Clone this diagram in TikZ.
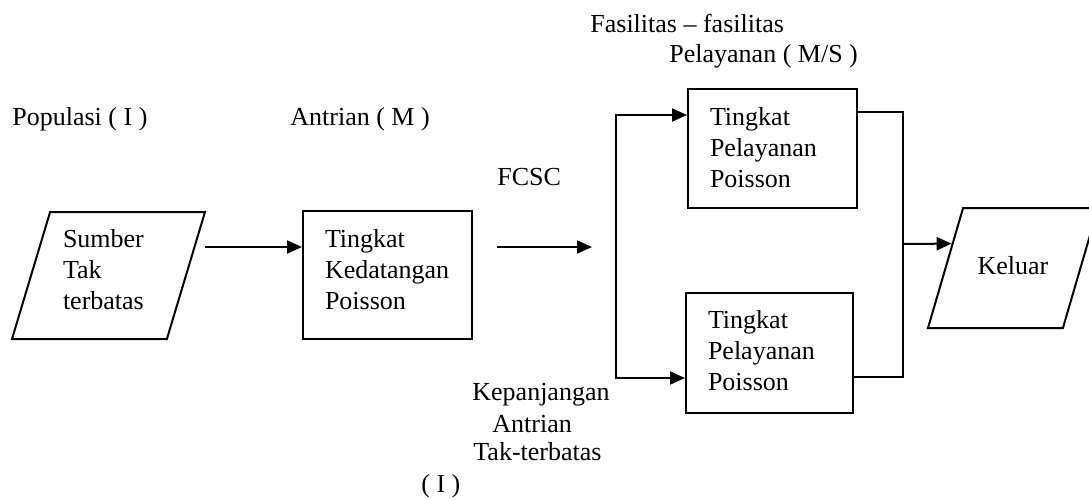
\documentclass[tikz,border=0pt]{standalone}
\usepackage{fontspec}
\setmainfont{Liberation Serif}
\usetikzlibrary{arrows.meta,shapes.geometric,calc}
\begin{document}
\begin{tikzpicture}[x=0.5pt,y=-0.5pt,
 every node/.style={font=\fontsize{13}{15.5}\selectfont},
 lbl/.style={inner sep=0pt, anchor=base west},
 box/.style={draw, line width=1pt, rectangle, align=left, text width=62.5pt, inner xsep=11pt, inner ysep=0pt},
 io/.style={draw, line width=1pt, trapezium, trapezium stretches body=true, align=left, inner sep=0pt},
 line/.style={line width=1pt},
 arr/.style={line width=1pt, -{Triangle[length=7.5pt,width=6.5pt]}}]
\useasboundingbox (0,0) rectangle (1089,499);
\clip (0,0) rectangle (1089,499);
% shapes
\node[io, trapezium left angle=73.3, trapezium right angle=106.7, minimum width=96.5pt, text width=45.5pt, text height=17.5pt, text depth=46pt] (src) at (108.5,275.5) {Sumber\\Tak\\terbatas};
\node[box, minimum height=64pt, text depth=37pt] (arv) at (387.5,275) {Tingkat\\Kedatangan\\Poisson};
\node[box, minimum height=59.5pt, text depth=32.5pt] (s1) at (772.5,148.5) {Tingkat\\Pelayanan\\Poisson};
\node[box, minimum height=60pt, text width=61.5pt, text depth=34pt] (s2) at (769.5,353) {Tingkat\\Pelayanan\\Poisson};
\node[io, trapezium left angle=73.7, trapezium right angle=106.3, minimum width=85pt, text height=33pt, text depth=27pt] (out) at (1013,268) {Keluar};
% labels
\node[lbl] (pop) at (12,125) {Populasi ( I )};
\node[lbl] (que) at (290,125) {Antrian ( M )};
\node[lbl] (fcsc) at (497,185) {FCSC};
\node[lbl] (fas1) at (590,32) {Fasilitas -- fasilitas};
\node[lbl] (fas2) at (669,62) {Pelayanan ( M/S )};
\node[lbl] (kp1) at (472,400) {Kepanjangan};
\node[lbl] (kp2) at (492,432) {Antrian};
\node[lbl] (kp3) at (473,460) {Tak-terbatas};
\node[lbl] (kp4) at (421,492) {( I )};
% connectors
\coordinate (srcout) at (205,247);
\draw[arr] (srcout) -- (srcout -| arv.west);
\coordinate (f1) at (497,247);
\coordinate (f2) at (592,247);
\draw[arr] (f1) -- (f2);
\coordinate (vl) at (616,247);
\draw[arr] (vl) |- ([yshift=16.75pt]s1.west);
\draw[arr] (vl) |- ([yshift=-12.5pt]s2.west);
\coordinate (vr) at (903,244);
\draw[line] ([yshift=18.25pt]s1.east) -| (vr);
\draw[line] ([yshift=-12pt]s2.east) -| (vr);
\path (out.bottom left corner) -- (out.top left corner) coordinate[pos=0.7] (kin);
\draw[arr] (vr) -- (kin);
\end{tikzpicture}
\end{document}
